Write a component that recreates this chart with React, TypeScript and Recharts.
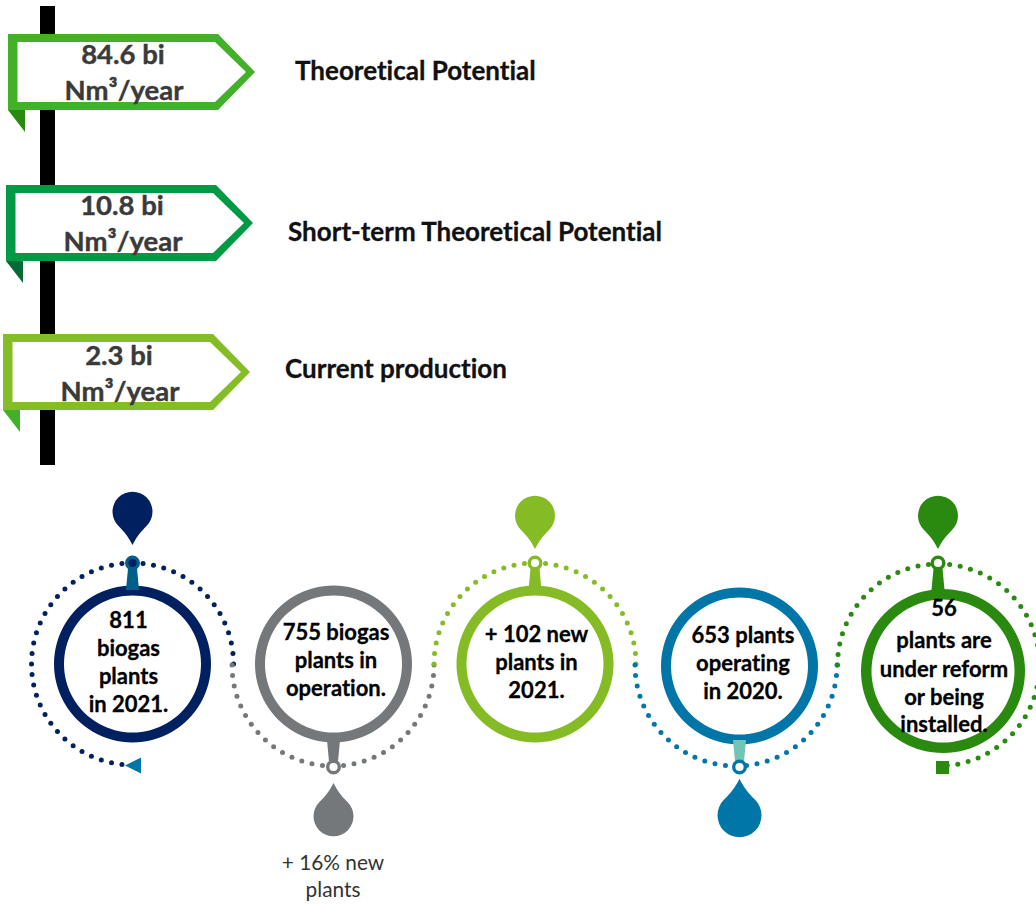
import { PieChart, Pie, ScatterChart, Scatter, XAxis, YAxis, ReferenceLine } from 'recharts';

const WIDTH = 1036;
const HEIGHT = 904;

// biomethane potential tags
const potentialLabels = ['Theoretical Potential', 'Short-term Theoretical Potential', 'Current production'];
const potentialValues = ['84.6 bi', '10.8 bi', '2.3 bi'];
const potentialUnit = 'Nm³/year';

// biogas plant milestones
const plantCounts = [811, 755, 102, 653, 56];
const milestoneLines = [
  ['811', 'biogas', 'plants', 'in 2021.'],
  ['755 biogas', 'plants in', 'operation.'],
  ['+ 102 new', 'plants in', '2021.'],
  ['653 plants', 'operating', 'in 2020.'],
  ['56', 'plants are', 'under reform', 'or being', 'installed.'],
];
const captionLines = ['+ 16% new', 'plants'];

// layout, kept apart from the values above
const tagX = [8, 6, 3];
const tagY = [34, 185, 334];
const tagColors = ['#43b02a', '#009a44', '#85bd27'];
const tagFoldColors = ['#2a8a10', '#046a38', '#43b02a'];
const tagValueX = [123, 122, 119];
const tagValueY = [[64, 100], [215, 251], [365, 401]];
const tagTitleX = [295, 288, 285];
const tagTitleY = [80, 241, 378];

const ringColors = ['#002060', '#75787b', '#85bc26', '#0076a8', '#2a8a10'];
const ringCx = [132.5, 333.5, 535, 739.5, 943];
const ringCy = [664, 664, 664, 666, 671];
const ringOuter = [78.5, 78.5, 78.5, 78.5, 82];
const ringInner = [68.5, 68.5, 68.5, 68.5, 71.5];

const arcCx = [132.5, 333, 535, 736, 938.5];
const arcCy = [664, 665, 664, 665, 665];
const arcStart = [0, 180, 0, 180, 180];
const arcEnd = [264, 360, 180, 360, -85];
const DOT_SPACING = 10.5;

const pinX = [132.5, 333.5, 535, 739.5, 938];
const pinY = [563, 767, 563, 767, 563];
const pinSide = [-1, 1, -1, 1, -1];
const pinDropGap = [51, 49, 47, 48, 47];
const pinDropScale = [1, 1, 1, 1.1, 1];
const pinStemColors = ['#005f8a', '#75787b', '#85bc26', '#71c5b3', '#2a8a10'];
const pinMarkColors = ['#005f8a', '#75787b', '#85bc26', '#0076a8', '#2a8a10'];
const pinCoreColors = ['#002060', '#fff', '#fff', '#fff', '#fff'];

const noteX = [128.5, 336, 536.5, 743, 944];
const noteY = [
  [628, 656, 684, 712],
  [640, 668, 696],
  [642, 670, 698],
  [643, 671, 699],
  [616, 648, 677, 705, 732],
];

const FONT = 'Lato, sans-serif';

const textStyles: Record<string, any> = {
  value: { fontSize: 27.5, fontWeight: 700, fill: '#3a3a3a', stroke: '#3a3a3a', strokeWidth: 0.4, textAnchor: 'middle' },
  title: { fontSize: 26, fontWeight: 700, fill: '#111', stroke: '#111', strokeWidth: 0.3, textAnchor: 'start' },
  note: { fontSize: 22, fontWeight: 700, fill: '#000', stroke: '#000', strokeWidth: 0.3, textAnchor: 'middle' },
  caption: { fontSize: 20.8, fontWeight: 400, fill: '#333', textAnchor: 'middle' },
};

const tagRows = potentialValues.map((value, i) => ({
  value,
  x: tagX[i],
  y: tagY[i],
  color: tagColors[i],
  fold: tagFoldColors[i],
}));

const pinRows = plantCounts.map((count, i) => ({
  count,
  x: pinX[i],
  y: pinY[i],
  side: pinSide[i],
  gap: pinDropGap[i],
  scale: pinDropScale[i],
  stem: pinStemColors[i],
  mark: pinMarkColors[i],
  core: pinCoreColors[i],
  color: ringColors[i],
}));

const textRows = [
  ...potentialValues.flatMap((value, i) => [
    { text: value, x: tagValueX[i], y: tagValueY[i][0], kind: 'value' },
    { text: potentialUnit, x: tagValueX[i] + 1, y: tagValueY[i][1], kind: 'value' },
    { text: potentialLabels[i], x: tagTitleX[i], y: tagTitleY[i], kind: 'title' },
  ]),
  ...milestoneLines.flatMap((lines, i) =>
    lines.map((text, j) => ({ text, x: noteX[i], y: noteY[i][j], kind: 'note' })),
  ),
  { text: captionLines[0], x: 333, y: 870, kind: 'caption' },
  { text: captionLines[1], x: 333, y: 897, kind: 'caption' },
];

const endCaps = [
  { x: 133, y: 765.5, kind: 'triangle', color: '#0076a8' },
  { x: 942.5, y: 767.5, kind: 'square', color: '#2a8a10' },
];

const TagShape = ({ cx, cy, payload }: any) => {
  const w = 247;
  const h = 76;
  const s = 210;
  const outer = `${cx},${cy} ${cx + s},${cy} ${cx + w},${cy + h / 2} ${cx + s},${cy + h} ${cx},${cy + h}`;
  const inner = `${cx + 9.5},${cy + 8} ${cx + s - 3},${cy + 8} ${cx + w - 9},${cy + h / 2} ${cx + s - 3},${cy + h - 8} ${cx + 9.5},${cy + h - 8}`;
  return (
    <g>
      <polygon points={`${cx},${cy + h} ${cx + 17},${cy + h} ${cx + 17},${cy + h + 22}`} fill={payload.fold} />
      <polygon points={outer} fill={payload.color} />
      <polygon points={inner} fill="#fff" />
    </g>
  );
};

const PinShape = ({ cx, cy, payload }: any) => {
  const { side, gap, scale, stem, mark, core, color } = payload;
  // the stem runs inward to the ring, the drop hangs outward
  const stemEnd = cy - side * 27;
  return (
    <g>
      <polygon
        points={`${cx - 4},${cy} ${cx + 4},${cy} ${cx + 6.5},${stemEnd} ${cx - 6.5},${stemEnd}`}
        fill={stem}
      />
      <circle cx={cx} cy={cy} r={5.8} fill={core} stroke={mark} strokeWidth={3.4} />
      <path
        transform={`translate(${cx} ${cy + side * gap}) scale(${scale} ${-side * scale})`}
        d="M0,33 C-4,25 -8,20 -14,14 A20,20 0 1 1 14,14 C8,20 4,25 0,33 Z"
        fill={color}
      />
    </g>
  );
};

const EndCap = ({ cx, cy, payload }: any) =>
  payload.kind === 'triangle' ? (
    <polygon points={`${cx - 8},${cy} ${cx + 8},${cy - 8} ${cx + 8},${cy + 8}`} fill={payload.color} />
  ) : (
    <rect x={cx - 6.5} y={cy - 6.5} width={13} height={13} fill={payload.color} />
  );

const TextShape = ({ cx, cy, payload }: any) => (
  <text x={cx} y={cy} fontFamily={FONT} style={{ fontVariantLigatures: 'none' }} {...textStyles[payload.kind]}>
    {payload.text}
  </text>
);

// row of dots along the slice's radius
const DottedArc = ({ cx, cy, outerRadius, startAngle, endAngle, fill }: any) => {
  const sweep = endAngle - startAngle;
  const length = (Math.abs(sweep) * Math.PI * outerRadius) / 180;
  const count = Math.round(length / DOT_SPACING);
  const dots = [];
  for (let k = 0; k <= count; k++) {
    const rad = ((startAngle + (sweep * k) / count) * Math.PI) / 180;
    dots.push(
      <circle
        key={k}
        cx={cx + outerRadius * Math.cos(rad)}
        cy={cy - outerRadius * Math.sin(rad)}
        r={2.5}
        fill={fill}
      />,
    );
  }
  return <g>{dots}</g>;
};

const layer = { position: 'absolute', left: 0, top: 0 } as const;

export default function App() {
  return (
    <div style={{ position: 'absolute', left: 0, top: 0, width: WIDTH, height: HEIGHT, background: '#fff', overflow: 'hidden' }}>
      <div style={layer}>
        <PieChart width={WIDTH} height={HEIGHT} margin={{ top: 0, right: 0, bottom: 0, left: 0 }}>
          {plantCounts.map((count, i) => (
            <Pie
              key={`arc-${i}`}
              data={[{ name: 'arc', value: count }]}
              dataKey="value"
              cx={arcCx[i]}
              cy={arcCy[i]}
              innerRadius={100.5}
              outerRadius={101}
              startAngle={arcStart[i]}
              endAngle={arcEnd[i]}
              fill={ringColors[i]}
              stroke="none"
              shape={DottedArc}
              isAnimationActive={false}
            />
          ))}
          {plantCounts.map((count, i) => (
            <Pie
              key={`ring-${i}`}
              data={[{ name: 'ring', value: count }]}
              dataKey="value"
              cx={ringCx[i]}
              cy={ringCy[i]}
              innerRadius={ringInner[i]}
              outerRadius={ringOuter[i]}
              startAngle={90}
              endAngle={-270}
              fill={ringColors[i]}
              stroke="none"
              isAnimationActive={false}
            />
          ))}
        </PieChart>
      </div>
      <div style={layer}>
        <ScatterChart width={WIDTH} height={HEIGHT} margin={{ top: 0, right: 0, bottom: 0, left: 0 }}>
          <XAxis type="number" dataKey="x" domain={[0, WIDTH]} hide />
          <YAxis type="number" dataKey="y" domain={[0, HEIGHT]} reversed hide />
          <ReferenceLine
            segment={[{ x: 47.5, y: 6 }, { x: 47.5, y: 465 }]}
            stroke="#000"
            strokeWidth={15}
            ifOverflow="visible"
          />
          <Scatter data={tagRows} shape={TagShape} isAnimationActive={false} />
          <Scatter data={pinRows} shape={PinShape} isAnimationActive={false} />
          <Scatter data={endCaps} shape={EndCap} isAnimationActive={false} />
          <Scatter data={textRows} shape={TextShape} isAnimationActive={false} />
        </ScatterChart>
      </div>
    </div>
  );
}
